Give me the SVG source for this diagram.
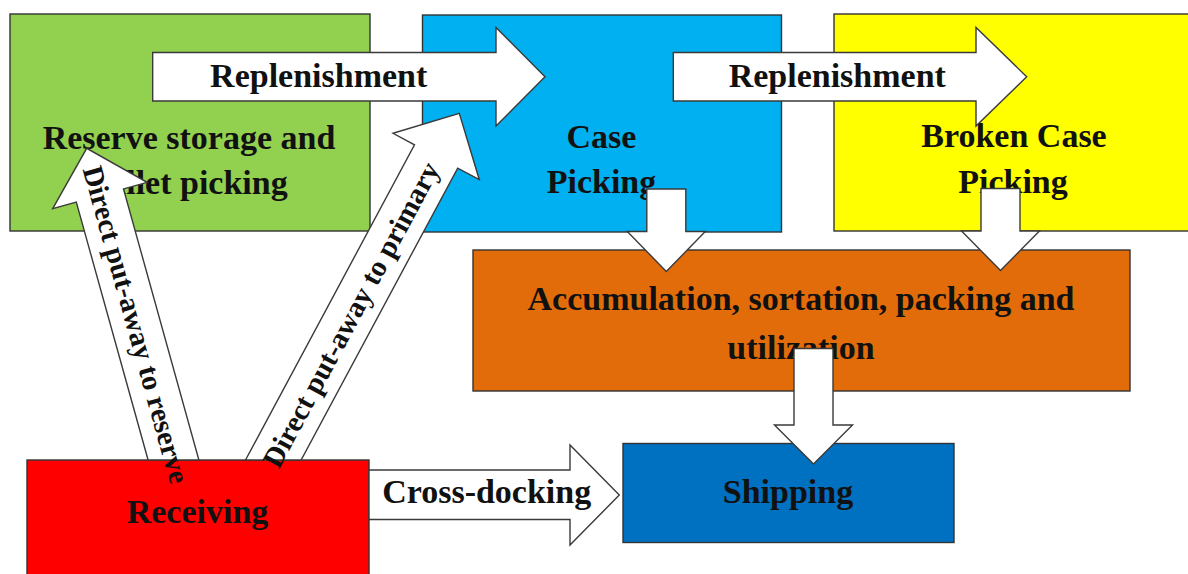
<svg xmlns="http://www.w3.org/2000/svg" width="1188" height="574" viewBox="0 0 1188 574">
<style>
.box{stroke:#333;stroke-width:1.4}
.t{font-family:"Liberation Serif","Times New Roman",serif;font-weight:bold;font-size:34px;fill:#111;text-anchor:middle}
.dt{font-family:"Liberation Serif","Times New Roman",serif;font-weight:bold;font-size:29px;fill:#111;text-anchor:middle}
.arr{fill:#fff;stroke:#3a3a3a;stroke-width:1.4;stroke-linejoin:miter}
</style>
<rect width="1188" height="574" fill="#fff"/>
<g id="reserve">
<rect class="box" x="10" y="14" width="360" height="217" fill="#92D050"/>
<text class="t" x="189" y="149">Reserve storage and</text>
<text class="t" x="189" y="194">pallet picking</text>
</g>
<g id="case-picking">
<rect class="box" x="422.5" y="15" width="359" height="217" fill="#00B0F0"/>
<text class="t" x="601.5" y="148">Case</text>
<text class="t" x="601.5" y="193">Picking</text>
</g>
<g id="broken-case">
<rect class="box" x="834" y="14" width="380" height="217" fill="#FFFF00"/>
<text class="t" x="1014" y="147">Broken Case</text>
<text class="t" x="1013" y="193">Picking</text>
</g>
<g id="accumulation">
<rect class="box" x="473" y="250" width="657" height="141" fill="#E36C0A"/>
<text class="t" x="801" y="310">Accumulation, sortation, packing and</text>
<text class="t" x="801" y="359">utilization</text>
</g>
<g id="shipping">
<rect class="box" x="623" y="443.5" width="331" height="99" fill="#0070C0"/>
<text class="t" x="788" y="503">Shipping</text>
</g>
<g id="receiving">
<rect class="box" x="27" y="460" width="342" height="130" fill="#FF0000"/>
<text class="t" x="197.5" y="523">Receiving</text>
</g>
<g id="connectors">
<polygon class="arr" points="152.7,52.5 496,52.5 496,27.5 545,76.8 496,126 496,101 152.7,101"/>
<polygon class="arr" points="673.3,52.5 976,52.5 976,27.5 1026.7,76.8 976,126 976,101 673.3,101"/>
<polygon class="arr" points="646.8,189 685.8,189 685.8,231.5 705.3,231.5 666.3,271.5 627.3,231.5 646.8,231.5"/>
<polygon class="arr" points="981,188.5 1020,188.5 1020,231 1039.5,231 1000.5,270.5 961.5,231 981,231"/>
<polygon class="arr" points="794,348.5 833,348.5 833,425 852.5,425 813.5,464 774.5,425 794,425"/>
<polygon class="arr" points="148.1,460 76.3,202.1 52.7,208.7 86.7,148.3 147.1,182.4 123.5,188.9 198.9,460"/>
<polygon class="arr" points="245.5,460 414.5,144.9 393,133.3 459.3,113.3 479.3,179.7 457.7,168.1 301.1,460"/>
<polygon class="arr" points="369,470 570,470 570,445 619.3,495 570,545 570,519.5 369,519.5"/>
</g>
<g id="connector-labels">
<text class="t" x="318.7" y="86.7">Replenishment</text>
<text class="t" x="837.3" y="86.7">Replenishment</text>
<text class="t" x="486.7" y="502.7">Cross-docking</text>
<text class="dt" transform="translate(135.8,324.7) rotate(74.44)" dy="0.33em">Direct put-away to reserve</text>
<text class="dt" transform="translate(351.2,314.8) rotate(-61.79)" dy="0.33em">Direct put-away to primary</text>
</g>
</svg>
